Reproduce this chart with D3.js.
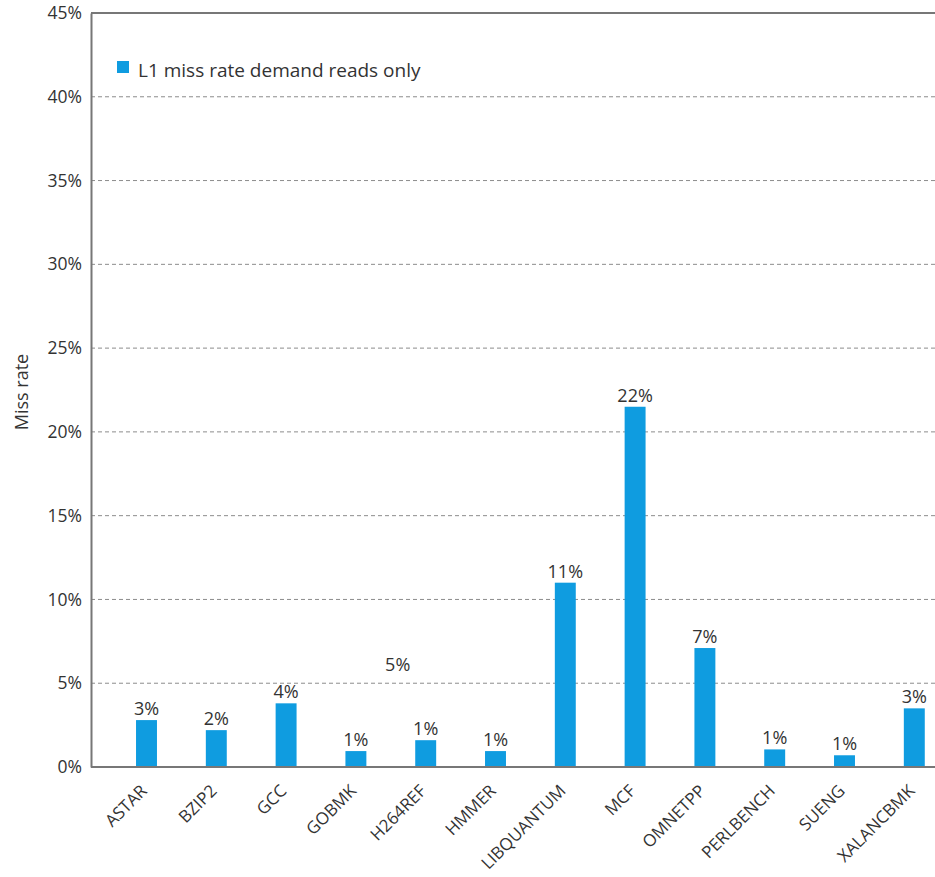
<!DOCTYPE html>
<html>
<head>
<meta charset="utf-8">
<script src="https://cdn.jsdelivr.net/npm/d3@7"></script>
<style>
  html, body { margin: 0; padding: 0; background: #fff; }
  svg text { font-family: "Open Sans", "Noto Sans", sans-serif; fill: #333; }
</style>
</head>
<body>
<svg id="chart" width="935" height="877"></svg>
<script>
const categories = ["ASTAR", "BZIP2", "GCC", "GOBMK", "H264REF", "HMMER", "LIBQUANTUM", "MCF", "OMNETPP", "PERLBENCH", "SUENG", "XALANCBMK"];
const missRate = [2.8, 2.2, 3.8, 0.95, 1.6, 0.95, 11.0, 21.5, 7.1, 1.05, 0.7, 3.5];
const barLabels = ["3%", "2%", "4%", "1%", "1%", "1%", "11%", "22%", "7%", "1%", "1%", "3%"];
const yTicks = [0, 5, 10, 15, 20, 25, 30, 35, 40, 45];
const seriesName = "L1 miss rate demand reads only";
const strayLabel = { text: "5%", category: "H264REF", value: 5.75 };

(function () {
const svg = d3.select("#chart");
const W = 935;
const plotLeft = 91, plotTop = 13, plotBottom = 767;

const y = d3.scaleLinear().domain([0, 45]).range([plotBottom, plotTop]);
const x = d3.scalePoint().domain(categories).range([111.6, 949.2]).padding(0.5);
const step = x.step();
const barW = step * 0.3;
const blue = "#0f9ce0";

// grid lines
svg.append("g")
  .selectAll("line")
  .data(yTicks.filter(t => t > 0 && t < 45))
  .join("line")
  .attr("x1", plotLeft).attr("x2", W)
  .attr("y1", d => y(d)).attr("y2", d => y(d))
  .attr("stroke", "#8c8c8c")
  .attr("stroke-width", 1)
  .attr("stroke-dasharray", "4,3");

// top border
svg.append("line")
  .attr("x1", plotLeft).attr("x2", W)
  .attr("y1", y(45)).attr("y2", y(45))
  .attr("stroke", "#777").attr("stroke-width", 2);

// y axis
const yAxis = d3.axisLeft(y).tickValues(yTicks).tickFormat(d => d + "%").tickSize(0).tickPadding(9);
const gy = svg.append("g").attr("transform", `translate(${plotLeft},0)`).call(yAxis);
gy.select(".domain").attr("stroke", "#777").attr("stroke-width", 2);
gy.selectAll("text").style("font-size", "17.5px").attr("fill", "#333");

// bars
svg.append("g")
  .selectAll("rect")
  .data(categories)
  .join("rect")
  .attr("x", d => x(d) - barW / 2)
  .attr("width", barW)
  .attr("y", (d, i) => y(missRate[i]))
  .attr("height", (d, i) => y(0) - y(missRate[i]))
  .attr("fill", blue);

// x axis
const xAxis = d3.axisBottom(x).tickSize(0).tickPadding(0);
const gx = svg.append("g").attr("transform", `translate(0,${plotBottom})`).call(xAxis);
gx.select(".domain").attr("stroke", "#777").attr("stroke-width", 2).attr("d", `M${plotLeft},0H${W}`);
gx.selectAll("text")
  .style("font-size", "17px")
  .attr("fill", "#333")
  .attr("text-anchor", "end")
  .attr("dy", null)
  .attr("y", 0)
  .attr("transform", "translate(1,25) rotate(-45)");

// value labels
svg.append("g")
  .selectAll("text")
  .data(categories)
  .join("text")
  .attr("x", d => x(d))
  .attr("y", (d, i) => y(missRate[i]) - 5)
  .attr("text-anchor", "middle")
  .style("font-size", "18px")
  .text((d, i) => barLabels[i]);

// stray label
svg.append("text")
  .attr("x", x(strayLabel.category) - 28)
  .attr("y", y(strayLabel.value))
  .attr("text-anchor", "middle")
  .style("font-size", "18px")
  .text(strayLabel.text);

// legend
svg.append("rect").attr("x", 117).attr("y", 61).attr("width", 12).attr("height", 12).attr("fill", blue);
svg.append("text").attr("x", 138).attr("y", 77).style("font-size", "19px").text(seriesName);

// y label
svg.append("text")
  .attr("transform", `translate(28,392) rotate(-90)`)
  .attr("text-anchor", "middle")
  .style("font-size", "18px")
  .text("Miss rate");
})();
</script>
</body>
</html>
